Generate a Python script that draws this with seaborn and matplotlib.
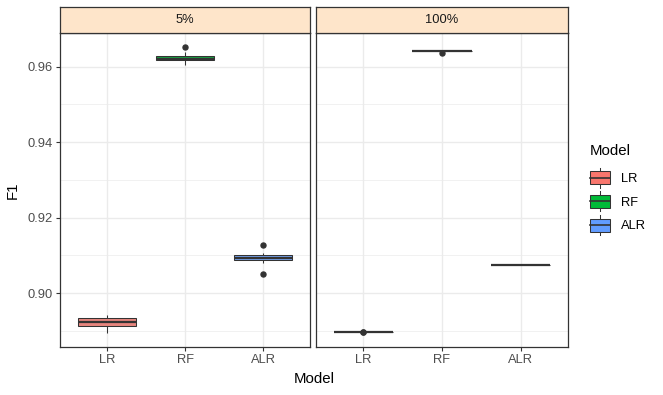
import numpy as np
import pandas as pd
import matplotlib
matplotlib.use('Agg')
import matplotlib.pyplot as plt
import seaborn as sns
from matplotlib.legend_handler import HandlerBase
from matplotlib.patches import Rectangle, Patch
from matplotlib.lines import Line2D
from matplotlib.ticker import MultipleLocator

# facets / categories
sizes = ['5%', '100%']
models = ['LR', 'RF', 'ALR']
colors = ['#F8766D', '#00BA38', '#619CFF']

# F1 scores per run
f1_5_lr = [0.8895, 0.8905, 0.8912, 0.8918, 0.8924, 0.8924, 0.8930, 0.8934, 0.8938, 0.8941]
f1_5_rf = [0.9605, 0.9613, 0.9616, 0.9617, 0.9619, 0.9619, 0.9625, 0.9630, 0.9638, 0.9651]
f1_5_alr = [0.9050, 0.9080, 0.9086, 0.9088, 0.9091, 0.9093, 0.9098, 0.9103, 0.9105, 0.9127]
f1_100_lr = [0.8898, 0.8898, 0.8898, 0.8898, 0.8898, 0.8898, 0.8898, 0.8898, 0.8896, 0.8897]
f1_100_rf = [0.9640, 0.9640, 0.9640, 0.9640, 0.9640, 0.9640, 0.9640, 0.9640, 0.9640, 0.9637]
f1_100_alr = [0.9075, 0.9075, 0.9075, 0.9075, 0.9075, 0.9075, 0.9075, 0.9075, 0.9075, 0.9075]

scores = {
    ('5%', 'LR'): f1_5_lr, ('5%', 'RF'): f1_5_rf, ('5%', 'ALR'): f1_5_alr,
    ('100%', 'LR'): f1_100_lr, ('100%', 'RF'): f1_100_rf, ('100%', 'ALR'): f1_100_alr,
}
rows = []
for (size, model), vals in scores.items():
    for v in vals:
        rows.append({'Size': size, 'Model': model, 'F1': v})
df = pd.DataFrame(rows)

FONT = 'Liberation Sans'
plt.rcParams['font.family'] = [FONT, 'DejaVu Sans']
TICK_FS = 9.3
TITLE_FS = 10.8

fig = plt.figure(figsize=(6.63, 3.95), dpi=100)
W, H = 663, 395
panels = [(60, 310), (316, 568)]
top, bottom, strip_top = 33, 347, 7

ymin, ymax = df['F1'].min(), df['F1'].max()
pad = (ymax - ymin) * 0.05
palette = dict(zip(models, colors))

axes = []
for i, (size, (x0, x1)) in enumerate(zip(sizes, panels)):
    ax = fig.add_axes([x0 / W, 1 - bottom / H, (x1 - x0) / W, (bottom - top) / H])
    sub = df[df['Size'] == size]
    sns.boxplot(data=sub, x='Model', y='F1', hue='Model', order=models, hue_order=models,
                palette=palette, width=0.75, linecolor='#333333', linewidth=0.75,
                showcaps=False, legend=False, ax=ax,
                flierprops=dict(marker='o', markerfacecolor='#333333', markeredgecolor='#333333',
                                markersize=3.6),
                medianprops=dict(linewidth=1.6, color='#333333'))
    ax.set_xlim(-0.6, 2.6)
    ax.set_ylim(ymin - pad, ymax + pad)
    ax.yaxis.set_major_locator(MultipleLocator(0.02))
    ax.yaxis.set_minor_locator(MultipleLocator(0.01))
    ax.set_axisbelow(True)
    ax.grid(which='major', color='#EBEBEB', linewidth=1.0)
    ax.grid(which='minor', axis='y', color='#EBEBEB', linewidth=0.5)
    ax.set_facecolor('white')
    for s in ax.spines.values():
        s.set_color('#333333')
        s.set_linewidth(0.9)
    ax.tick_params(which='major', length=3, width=0.8, color='#333333',
                   labelcolor='#4D4D4D', labelsize=TICK_FS, pad=2)
    ax.tick_params(which='minor', length=0)
    ax.set_xlabel('')
    if i == 0:
        ax.set_ylabel('F1', fontsize=TITLE_FS, color='black', labelpad=6)
        ax.yaxis.set_major_formatter(matplotlib.ticker.FormatStrFormatter('%.2f'))
    else:
        ax.set_ylabel('')
        ax.tick_params(axis='y', which='both', left=False, labelleft=False)
    axes.append(ax)

    # facet strip
    sax = fig.add_axes([x0 / W, 1 - top / H, (x1 - x0) / W, (top - strip_top) / H])
    sax.set_facecolor('#FEE5CA')
    sax.set_xticks([])
    sax.set_yticks([])
    for s in sax.spines.values():
        s.set_color('#333333')
        s.set_linewidth(0.9)
    sax.text(0.5, 0.5, size, ha='center', va='center', fontsize=TICK_FS, color='#1A1A1A',
             transform=sax.transAxes)

fig.text((panels[0][0] + panels[1][1]) / 2 / W, 1 - 379 / H, 'Model', ha='center', va='center',
         fontsize=TITLE_FS, color='black')


class BoxKey(HandlerBase):
    def create_artists(self, legend, orig_handle, xdescent, ydescent, width, height, fontsize, trans):
        x0, y0 = -xdescent, -ydescent
        cx = x0 + width / 2
        ec = '#333333'
        wl = Line2D([cx, cx], [y0, y0 + height], color=ec, lw=0.75, transform=trans)
        box = Rectangle((x0, y0 + 0.18 * height), width, 0.64 * height,
                        facecolor=orig_handle.get_facecolor(), edgecolor=ec, lw=0.75,
                        transform=trans)
        med = Line2D([x0, x0 + width], [y0 + 0.5 * height] * 2, color=ec,
                     lw=1.2, transform=trans)
        return [wl, box, med]


handles = [Patch(facecolor=c, label=m) for m, c in zip(models, colors)]
leg = fig.legend(handles=handles, labels=models, title='Model', loc='upper left',
                 bbox_to_anchor=(586 / W, 1 - 140 / H), frameon=False,
                 handler_map={Patch: BoxKey()}, fontsize=TICK_FS, title_fontsize=TITLE_FS,
                 handlelength=1.55, handleheight=2.0, labelspacing=0.3, handletextpad=0.85,
                 borderaxespad=0, borderpad=0.3, alignment='left')
leg._legend_box.sep = 7.0  # extra gap under the legend title, as in ggplot
for t in leg.get_texts():
    t.set_color('black')

fig.savefig('out.png', dpi=100, facecolor='white')
